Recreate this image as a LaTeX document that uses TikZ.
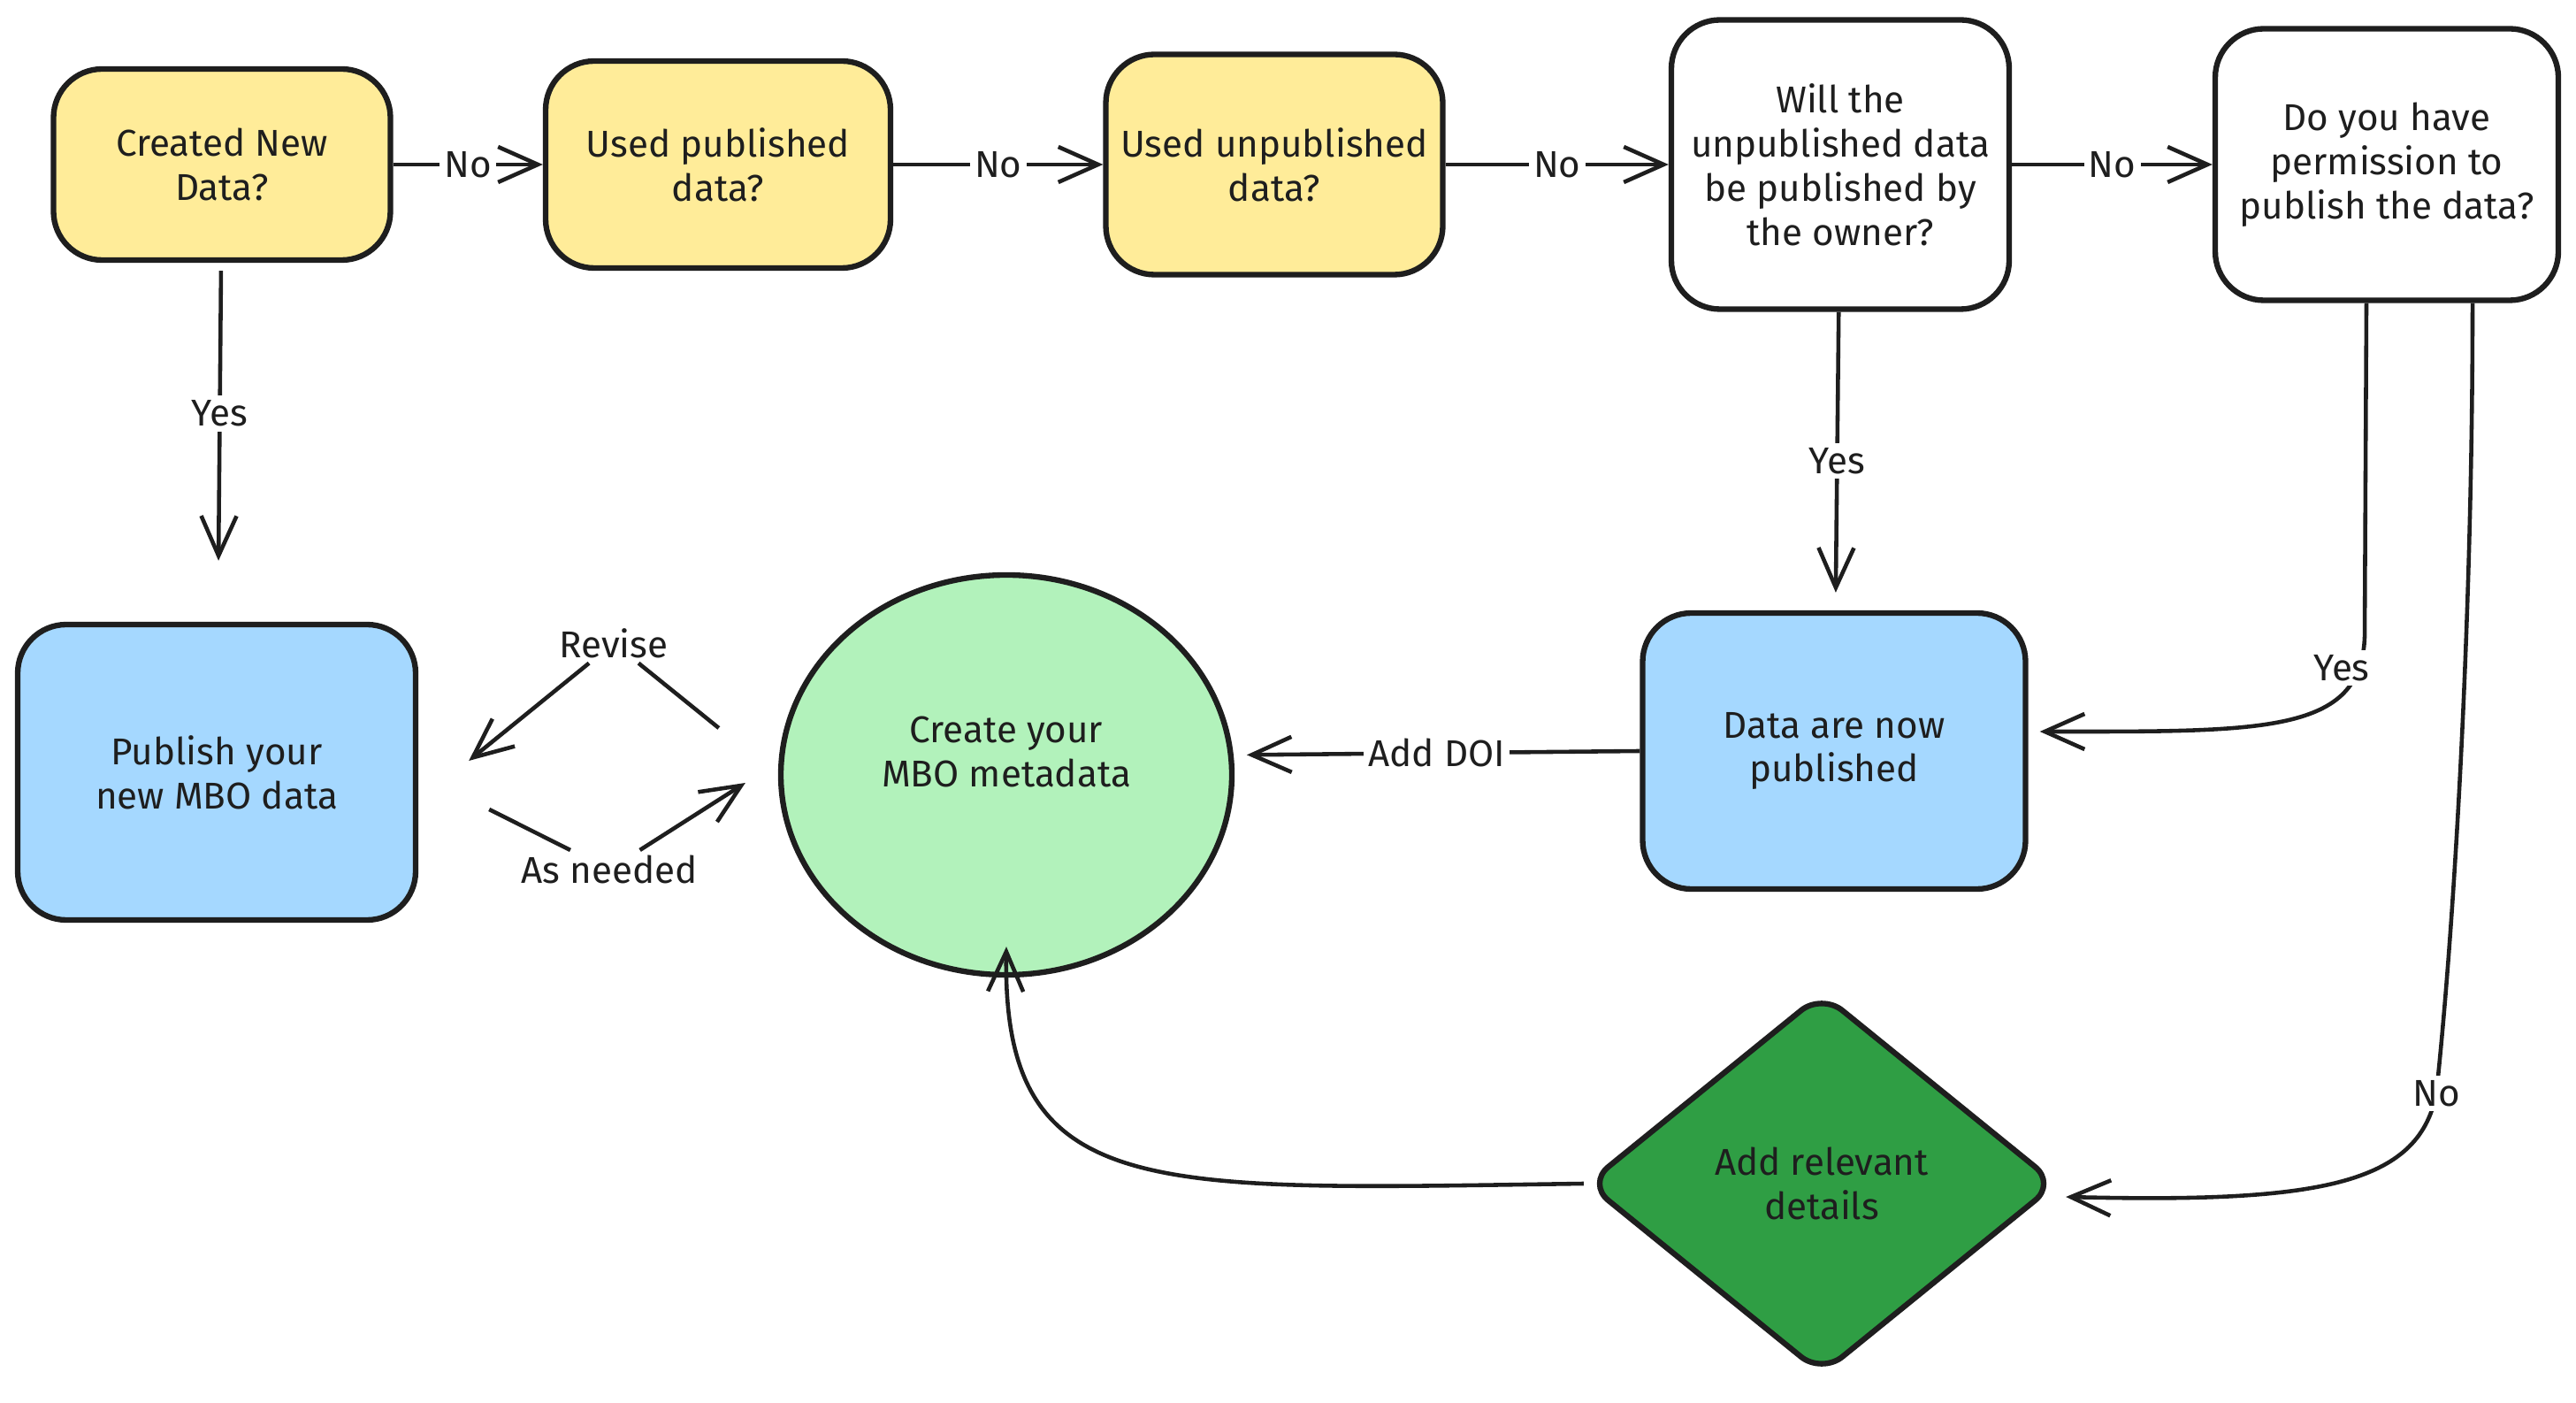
\documentclass[tikz,border=0pt]{standalone}
\usepackage{fontspec}
\setmainfont{Fira Sans}
\usepackage{tikz}
\usepackage{xcolor}
\definecolor{ink}{HTML}{1E1E1E}
\definecolor{noteYellow}{HTML}{FFEC99}
\definecolor{noteBlue}{HTML}{A5D8FF}
\definecolor{noteGreen}{HTML}{B2F2BB}
\definecolor{deepGreen}{HTML}{2F9E44}
\usetikzlibrary{arrows.meta,shapes.geometric}
\tikzstyle{myBox}=[draw=ink, line width=1.8pt, rounded corners=0.55cm, align=center, text=ink, font=\fontsize{12}{14.2}\selectfont]
\tikzstyle{yellowBox}=[myBox, fill=noteYellow]
\tikzstyle{whiteBox}=[myBox, fill=white]
\tikzstyle{blueBox}=[myBox, fill=noteBlue]
\tikzstyle{myEllipse}=[draw=ink, line width=1.8pt, ellipse, fill=noteGreen]
\tikzstyle{myDiamond}=[myBox, diamond, fill=deepGreen, rounded corners=0.3cm, inner sep=0pt]
\tikzstyle{myPath}=[-{Straight Barb[length=4.5mm,width=4mm]}, line width=1.3pt, draw=ink]
\tikzstyle{myLine}=[line width=1.3pt, draw=ink]
\tikzstyle{myLabel}=[fill=white, inner sep=1.5pt, text=ink, font=\fontsize{12}{14}\selectfont]

\begin{document}
\begin{tikzpicture}
   \useasboundingbox (0,0) rectangle (29.13,-15.86);

   % Top row of questions
   \node[yellowBox, minimum width=3.81cm, minimum height=2.16cm] (created) at (2.51,-1.86) {Created New\\Data?};
   \node[yellowBox, minimum width=3.90cm, minimum height=2.34cm, right of=created, node distance=5.61cm] (usedPub) {Used published\\data?};
   \node[yellowBox, minimum width=3.81cm, minimum height=2.49cm, right of=usedPub, node distance=6.29cm] (usedUnpub) {Used unpublished\\data?};
   \node[whiteBox, minimum width=3.82cm, minimum height=3.27cm, right of=usedUnpub, node distance=6.40cm] (willPub) {Will the\\unpublished data\\be published by\\the owner?};
   \node[whiteBox, minimum width=3.88cm, minimum height=3.07cm, right of=willPub, node distance=6.18cm] (permission) {Do you have\\permission to\\publish the data?};

   % Lower row
   \node[blueBox, minimum width=4.50cm, minimum height=3.34cm, below of=created, node distance=6.87cm, xshift=-0.06cm] (publish) {Publish your\\new MBO data};
   \node[myEllipse, minimum width=5.10cm, minimum height=4.52cm] (meta) at (11.38,-8.76) {};
   \node[align=center, text=ink, font=\fontsize{12}{14.2}\selectfont] (metaText) at ([yshift=0.26cm]meta.center) {Create your\\MBO metadata};
   \node[blueBox, minimum width=4.33cm, minimum height=3.12cm, below of=willPub, node distance=6.63cm, xshift=-0.07cm] (dataPub) {Data are now\\published};
   \node[myDiamond, minimum width=5.32cm, minimum height=4.32cm, below of=dataPub, node distance=4.89cm, xshift=-0.14cm] (details) {Add relevant\\details};

   % Draw line between each of the blocks
   \draw[myPath] (created) -- (usedPub) node [midway, myLabel] (no1) {No};
   \draw[myPath] (usedPub) -- (usedUnpub) node [midway, myLabel] (no2) {No};
   \draw[myPath] (usedUnpub) -- (willPub) node [midway, myLabel] (no3) {No};
   \draw[myPath] (willPub) -- (permission) node [midway, myLabel] (no4) {No};
   \draw[myPath, shorten <=0.09cm, shorten >=0.69cm] (created) -- (publish) node [pos=0.42, myLabel] (yes1) {Yes};
   \draw[myPath, shorten >=0.2cm] (willPub) -- (dataPub) node [midway, myLabel] (yes2) {Yes};
   \draw[myPath] ([xshift=-0.23cm]permission.south) -- (26.74,-7.2) .. controls (26.70,-8.3) and (25.6,-8.27) .. ([xshift=0.13cm,yshift=0.22cm]dataPub.east) node [pos=0.12, myLabel, xshift=-0.2cm] (yes3) {Yes};
   \draw[myPath] ([xshift=0.97cm]permission.south) .. controls (27.96,-7) and (27.75,-10.5) .. (27.55,-12.36) node [myLabel] (no5) {No} .. controls (27.35,-13.4) and (26.2,-13.6) .. ([xshift=0.07cm,yshift=-0.15cm]details.east);
   \draw[myPath, shorten >=0.15cm] (dataPub.west) -- (meta.5) node [midway, myLabel] (doi) {Add DOI};
   \draw[myPath] (details.west) .. controls (13.0,-13.45) and (11.33,-13.6) .. ([yshift=0.35cm]meta.south);

   % Revise loop
   \node[myLabel] (revise) at (6.94,-7.27) {Revise};
   \node[myLabel] (needed) at (6.89,-9.83) {As needed};
   \draw[myLine] ([xshift=-0.67cm,yshift=0.53cm]meta.west) -- (revise);
   \draw[myPath] (revise) -- ([xshift=0.57cm,yshift=0.13cm]publish.east);
   \draw[myLine] ([xshift=0.80cm,yshift=-0.42cm]publish.east) -- (needed);
   \draw[myPath] (needed) -- ([xshift=-0.37cm,yshift=-0.09cm]meta.west);

\end{tikzpicture}
\end{document}
